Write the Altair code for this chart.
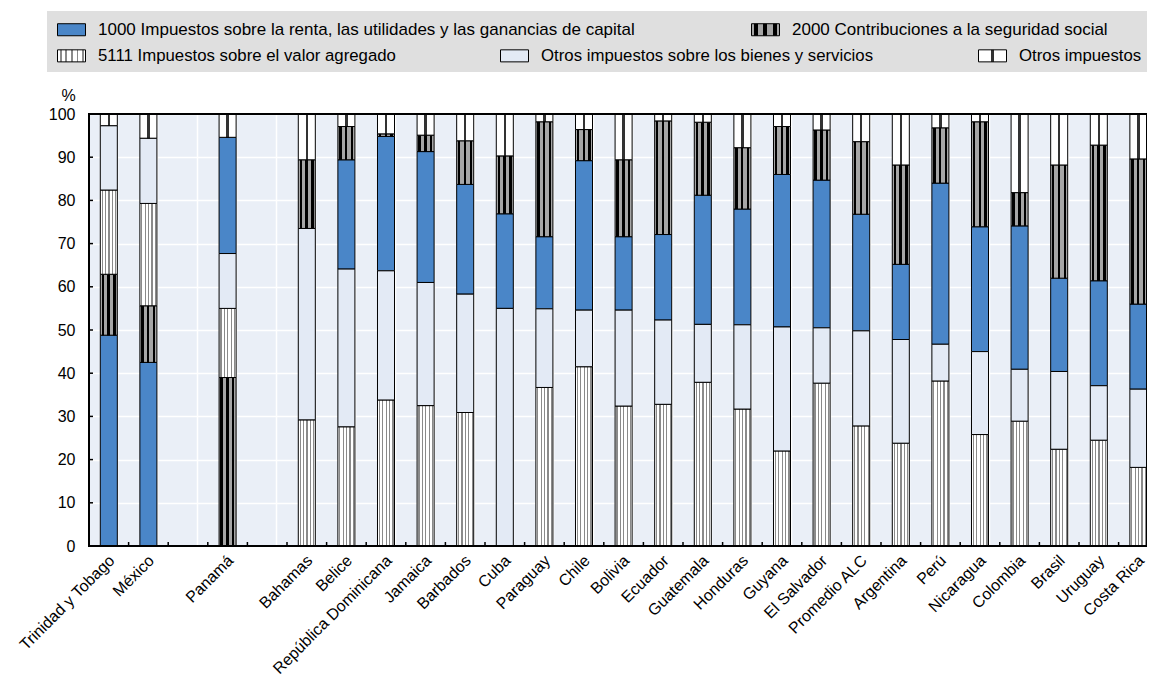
import altair as alt
import pandas as pd

# ---------------- data ----------------
paises = ["Trinidad y Tobago", "México", "Panamá", "Bahamas", "Belice",
          "República Dominicana", "Jamaica", "Barbados", "Cuba", "Paraguay",
          "Chile", "Bolivia", "Ecuador", "Guatemala", "Honduras", "Guyana",
          "El Salvador", "Promedio ALC", "Argentina", "Perú", "Nicaragua",
          "Colombia", "Brasil", "Uruguay", "Costa Rica"]

renta = [48.8, 42.5, 26.9, 0.0, 25.3, 31.1, 30.3, 25.4, 21.9, 16.7, 34.6, 17.0,
         19.8, 29.9, 26.8, 35.3, 34.2, 27.0, 17.4, 37.3, 28.9, 33.2, 21.6, 24.3, 19.7]
seguridad = [14.1, 13.1, 39.0, 15.9, 7.7, 0.6, 3.8, 10.1, 13.4, 26.6, 7.2, 17.8,
             26.3, 16.9, 14.2, 11.1, 11.6, 16.8, 23.0, 12.8, 24.3, 7.7, 26.2, 31.4, 33.6]
iva = [19.5, 23.7, 16.0, 29.2, 27.6, 33.8, 32.5, 30.9, 0.0, 36.7, 41.5, 32.4,
       32.8, 37.9, 31.7, 22.0, 37.7, 27.8, 23.8, 38.2, 25.8, 28.9, 22.4, 24.5, 18.2]
otros_bs = [14.9, 15.1, 12.7, 44.3, 36.5, 29.9, 28.5, 27.4, 55.0, 18.2, 13.1, 22.2,
            19.5, 13.4, 19.5, 28.7, 12.8, 22.0, 24.0, 8.5, 19.2, 12.0, 18.0, 12.6, 18.1]
otros = [2.7, 5.6, 5.4, 10.6, 2.9, 4.6, 4.9, 6.2, 9.7, 1.8, 3.6, 10.6, 1.6, 1.9,
         7.8, 2.9, 3.7, 6.4, 11.8, 3.2, 1.8, 18.2, 11.8, 7.2, 10.4]

S1 = "1000 Impuestos sobre la renta, las utilidades y las ganancias de capital"
S2 = "2000 Contribuciones a la seguridad social"
S3 = "5111 Impuestos sobre el valor agregado"
S4 = "Otros impuestos sobre los bienes y servicios"
S5 = "Otros impuestos"
series = [S1, S2, S3, S4, S5]
valores = {S1: renta, S2: seguridad, S3: iva, S4: otros_bs, S5: otros}

# stacking order (bottom -> top) per group of countries
orden_grupo_renta = [S1, S2, S3, S4, S5]        # Trinidad y Tobago, México
orden_grupo_ss = [S2, S3, S4, S1, S5]           # Panamá
orden_grupo_iva = [S3, S4, S1, S2, S5]          # resto
grupo_renta = ["Trinidad y Tobago", "México"]
grupo_ss = ["Panamá"]

marcas_y = [0, 10, 20, 30, 40, 50, 60, 70, 80, 90, 100]

# axis domain with the two empty slots
dominio_x = paises[:2] + [" "] + paises[2:3] + ["  "] + paises[3:]

filas = []
for i, p in enumerate(paises):
    if p in grupo_renta:
        orden = orden_grupo_renta
    elif p in grupo_ss:
        orden = orden_grupo_ss
    else:
        orden = orden_grupo_iva
    for s in series:
        filas.append({"pais": p, "serie": s, "valor": valores[s][i],
                      "orden": orden.index(s)})
df = pd.DataFrame(filas)

# ---------------- styles ----------------
def gradiente(stops):
    partes = ",".join("{offset:%g,color:'%s'}" % (o, c) for o, c in stops)
    return alt.ExprRef(expr="{gradient:'linear',x1:0,y1:0,x2:1,y2:0,stops:[%s]}" % partes)

def rayas(base, linea, bandas):
    st = [(0, base)]
    for a, b in bandas:
        st += [(a, base), (a, linea), (b, linea), (b, base)]
    st.append((1, base))
    return gradiente(st)

relleno = {
    S1: "#4a86c8",
    S2: rayas("#a6a6a6", "#000000", [(0.08, 0.22), (0.42, 0.56), (0.76, 0.90)]),
    S3: rayas("#ffffff", "#8a8a8a", [(0.08, 0.15), (0.28, 0.35), (0.48, 0.55), (0.68, 0.75), (0.88, 0.95)]),
    S4: "#e3eaf5",
    S5: rayas("#ffffff", "#333333", [(0.43, 0.57)]),
}

W = 1058
H = 432
STEP = 39.6
FONT = "Liberation Sans"
SIMBOLO = "M-1,-0.43L1,-0.43L1,0.43L-1,0.43Z"

x_enc = alt.X("pais:N", sort=dominio_x,
              scale=alt.Scale(domain=dominio_x, range=[0, STEP * len(dominio_x)],
                              paddingInner=0.57, paddingOuter=0.285),
              axis=alt.Axis(title=None, labelAngle=-45, labelFontSize=16,
                            labelColor="black", labelPadding=6, labelOffset=-3,
                            ticks=False, tickSize=0, domain=False, grid=True,
                            gridColor="white", gridWidth=1.5, tickBand="extent"))

y_axis = alt.Axis(values=marcas_y, title="%", titleAngle=0, titleX=-21, titleY=-11,
                  titleAlign="center", titleBaseline="bottom", titleFontWeight="normal",
                  titleFontSize=16, titleColor="black", labelFontSize=16,
                  labelColor="black", labelPadding=14, ticks=False, tickSize=0,
                  domain=False, grid=True, gridColor="white", gridWidth=1.5)
y_scale = alt.Scale(domain=[0, 100], nice=False)


def capa(grupo, lx, ly, colpad, fsize):
    return (
        alt.Chart(df)
        .transform_stack(stack="valor", groupby=["pais"],
                         sort=[alt.SortField("orden", order="ascending")],
                         as_=["y0", "y1"])
        .transform_filter(alt.FieldOneOfPredicate(field="serie", oneOf=grupo))
        .transform_filter("datum.valor > 0")
        .mark_bar(stroke="black", strokeWidth=1)
        .encode(
            x=x_enc,
            y=alt.Y("y0:Q", scale=y_scale, axis=y_axis),
            y2="y1:Q",
            color=alt.Color(
                "serie:N",
                scale=alt.Scale(domain=grupo, range=[relleno[s] for s in grupo]),
                legend=alt.Legend(title=None, orient="none", legendX=lx, legendY=ly,
                                  direction="horizontal", columnPadding=colpad,
                                  symbolType=SIMBOLO, symbolSize=784,
                                  symbolStrokeColor="black", symbolStrokeWidth=1,
                                  labelFontSize=fsize, labelColor="black", labelOffset=12,
                                  labelLimit=800, zindex=1),
            ),
        )
    )


barras_a = capa([S1, S2], -32, -99, 114, 17)
barras_b = capa([S3, S4, S5], -32, -73, 102, 16.8)

fondo_leyenda = (
    alt.Chart(pd.DataFrame({"k": [0]}))
    .mark_rect(color="#dfdfdf")
    .encode(x=alt.value(-42), x2=alt.value(W), y=alt.value(-103), y2=alt.value(-42))
)

marco = (
    alt.Chart(pd.DataFrame({"k": [0]}))
    .mark_rect(fillOpacity=0, stroke="black", strokeWidth=2)
    .encode(x=alt.value(0), x2=alt.value(W), y=alt.value(0), y2=alt.value(H))
)

ticks_x = (
    alt.Chart(pd.DataFrame({"pais": dominio_x[1:]}))
    .mark_rule(color="black", strokeWidth=1.5, xOffset=-STEP / 2)
    .encode(x=x_enc, y=alt.value(H), y2=alt.value(H - 4))
)

ticks_y = (
    alt.Chart(pd.DataFrame({"v": marcas_y[1:-1]}))
    .mark_rule(color="black", strokeWidth=1.5)
    .encode(y=alt.Y("v:Q", scale=y_scale, axis=y_axis), x=alt.value(0), x2=alt.value(4))
)

chart = (
    alt.layer(fondo_leyenda, barras_a, barras_b, ticks_x, ticks_y, marco)
    .resolve_scale(color="independent")
    .properties(width=W, height=H,
                autosize=alt.AutoSizeParams(type="none"),
                padding={"left": 81, "top": 106, "right": 0, "bottom": 133})
    .configure(font=FONT)
    .configure_view(fill="#eaeff7", stroke="transparent")
)

chart.save("out.html", embed_options={"renderer": "svg", "actions": False})
